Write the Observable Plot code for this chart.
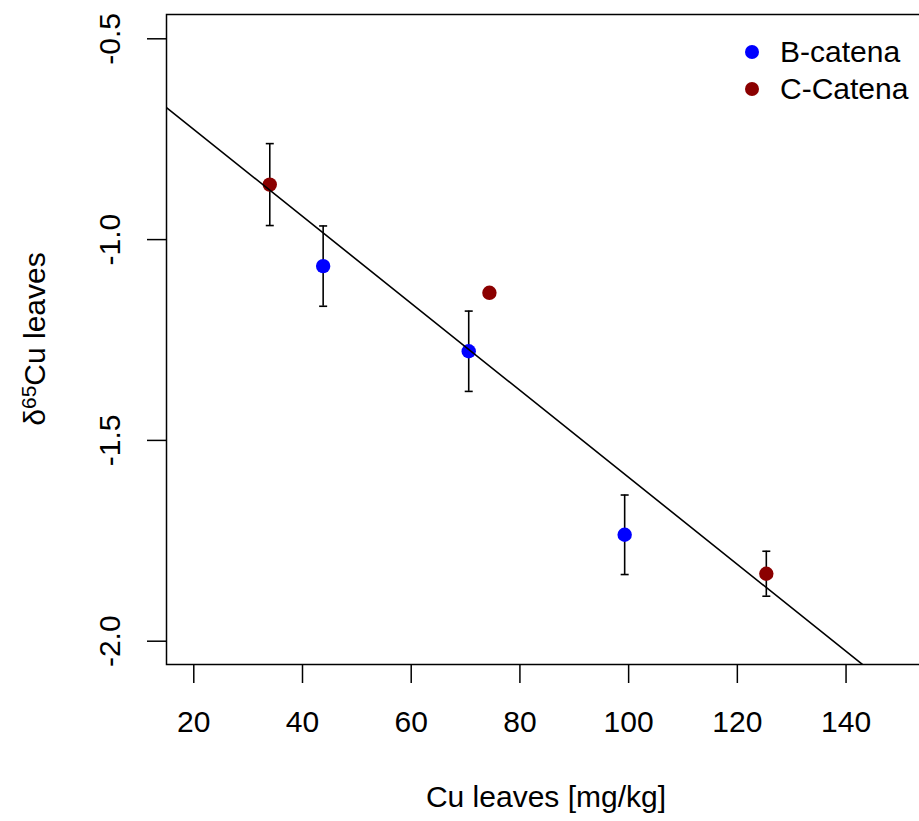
<!DOCTYPE html>
<html>
<head>
<meta charset="utf-8">
<script src="https://cdn.jsdelivr.net/npm/d3@7"></script>
<script src="https://cdn.jsdelivr.net/npm/@observablehq/plot@0.6"></script>
<style>
  html, body { margin: 0; padding: 0; background: #fff; overflow: hidden; }
  #wrap { position: relative; width: 919px; height: 821px; overflow: hidden; font-family: "Liberation Sans", Arial, sans-serif; }
  #chart { width: 927px; }
  #chart svg { max-width: none !important; width: 927px !important; height: 821px !important; display: block; }
  #legend { position: absolute; left: 745px; top: 33px; font-size: 30px; line-height: 37px; color: #000; }
  .item { display: flex; align-items: center; white-space: nowrap; }
  .sw { width: 14px; height: 14px; border-radius: 50%; margin-right: 21px; }
</style>
</head>
<body>
<div id="wrap"><div id="chart"></div><div id="legend"></div></div>
<script>
// ---- data ----
const catena    = ["C-Catena", "B-catena", "B-catena", "C-Catena", "B-catena", "C-Catena"];
const cuLeaves  = [33.98, 43.8, 70.58, 74.39, 99.27, 125.33];
const delta65Cu = [-0.863, -1.066, -1.278, -1.1325, -1.735, -1.832];
const errBar    = [0.102, 0.1, 0.1, null, 0.099, 0.056];

const legendNames  = ["B-catena", "C-Catena"];
const legendColors = ["#0000ff", "#8b0000"];

const fitIntercept = -0.509;
const fitSlope     = -0.01083;

const xTicks = [20, 40, 60, 80, 100, 120, 140];
const yTicks = [-0.5, -1.0, -1.5, -2.0];
const xDomain = [14.98, 154.8];
const yDomain = [-2.058, -0.4395];

const xTitle = "Cu leaves [mg/kg]";

// ---- build tables ----
const points = cuLeaves.map((x, i) => ({x, y: delta65Cu[i], group: catena[i], err: errBar[i]}));
const bars = points.filter(d => d.err != null).map(d => ({x: d.x, lo: d.y - d.err, hi: d.y + d.err}));
const fitLine = xDomain.map(x => ({x, y: fitIntercept + fitSlope * x}));

const capSymbol = {
  draw(context, size) {
    const h = Math.sqrt(size / Math.PI);
    context.moveTo(-h, 0);
    context.lineTo(h, 0);
  }
};

const font = '"Liberation Sans", Arial, sans-serif';

const chart = Plot.plot({
  width: 927,
  height: 821,
  marginLeft: 166,
  marginRight: 1,
  marginTop: 14,
  marginBottom: 157,
  style: {fontFamily: font, fontSize: "30px", background: "#fff", overflow: "visible"},
  x: {domain: xDomain, axis: null},
  y: {domain: yDomain, axis: null},
  color: {domain: legendNames, range: legendColors},
  marks: [
    Plot.frame({stroke: "#000", strokeWidth: 1.5}),
    Plot.axisX(xTicks, {tickSize: 19, tickPadding: 27, fontSize: 30, tickFormat: d => String(d), label: null, strokeWidth: 1.5}),
    Plot.axisY(yTicks, {tickSize: 19, tickFormat: () => "", label: null, strokeWidth: 1.5}),
    Plot.text(yTicks, {y: d => d, text: d => d.toFixed(1), frameAnchor: "left", dx: -56, rotate: -90, textAnchor: "middle", lineAnchor: "middle", fontSize: 30}),
    Plot.ruleX(bars, {x: "x", y1: "lo", y2: "hi", stroke: "#000", strokeWidth: 1.6}),
    Plot.dot(bars, {x: "x", y: "lo", r: 4, symbol: capSymbol, stroke: "#000", strokeWidth: 1.6, fill: "none"}),
    Plot.dot(bars, {x: "x", y: "hi", r: 4, symbol: capSymbol, stroke: "#000", strokeWidth: 1.6, fill: "none"}),
    Plot.dot(points, {x: "x", y: "y", fill: "group", r: 7.2, stroke: null}),
    Plot.line(fitLine, {x: "x", y: "y", stroke: "#000", strokeWidth: 1.6, clip: true})
  ]
});
document.getElementById("chart").appendChild(chart);

// axis titles
const svg = d3.select(chart);
svg.append("text")
  .attr("x", (166 + 926) / 2).attr("y", 807)
  .attr("text-anchor", "middle")
  .attr("font-family", font).attr("font-size", 30).attr("fill", "#000")
  .text(xTitle);

const yt = svg.append("text")
  .attr("transform", `translate(45, ${(14 + 664) / 2}) rotate(-90)`)
  .attr("text-anchor", "middle")
  .attr("font-family", font).attr("font-size", 30).attr("fill", "#000");
yt.append("tspan").text("δ");
yt.append("tspan").attr("font-size", 21).attr("dy", "-0.45em").text("65");
yt.append("tspan").attr("dy", "0.315em").text("Cu leaves");

// legend
const legend = d3.select("#legend");
legendNames.forEach((n, i) => {
  const it = legend.append("div").attr("class", "item");
  it.append("div").attr("class", "sw").style("background", legendColors[i]);
  it.append("span").text(n);
});
</script>
</body>
</html>
